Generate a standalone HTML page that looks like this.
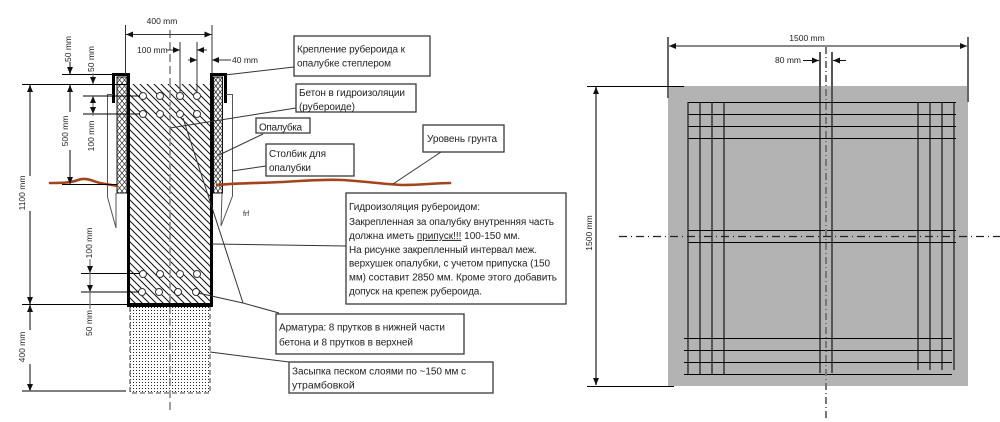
<!DOCTYPE html>
<html><head><meta charset="utf-8"><style>
html,body{margin:0;padding:0;background:#fff;}
svg{display:block;}
text{font-family:"Liberation Sans","Noto Sans CJK SC",sans-serif;fill:#222;}
</style></head><body>
<svg width="1000" height="422" viewBox="0 0 1000 422" xmlns="http://www.w3.org/2000/svg">
<defs>
<marker id="a" markerUnits="userSpaceOnUse" markerWidth="7" markerHeight="6" refX="7" refY="3" orient="auto-start-reverse"><path d="M0,0 L7,3 L0,6 z" fill="#111"/></marker>
<pattern id="hatch" patternUnits="userSpaceOnUse" width="7" height="7"><path d="M0,0 L7,7 M-1,6 L1,8 M6,-1 L8,1" stroke="#111" stroke-width="1"/></pattern>
<pattern id="xh" patternUnits="userSpaceOnUse" x="117" y="77" width="5" height="6"><path d="M0,0 L5,6 M5,0 L0,6" stroke="#222" stroke-width="0.7"/></pattern>
<pattern id="xh2" patternUnits="userSpaceOnUse" x="213.5" y="77" width="4.5" height="6"><path d="M0,0 L4.5,6 M4.5,0 L0,6" stroke="#222" stroke-width="0.7"/></pattern>
<pattern id="dots" patternUnits="userSpaceOnUse" width="3" height="3"><rect x="1" y="1" width="1" height="1" fill="#222"/></pattern>
</defs>

<!-- ===== LEFT DIAGRAM ===== -->
<rect x="130" y="307" width="80" height="86" fill="url(#dots)"/>
<path d="M130,307 L130,393 L210,393 L210,307" fill="none" stroke="#666" stroke-width="1.3" stroke-dasharray="5,3"/>
<rect x="130" y="84" width="80" height="221" fill="url(#hatch)"/>
<line x1="170" y1="30" x2="170" y2="414" stroke="#888" stroke-width="1.6" stroke-dasharray="8,4"/>
<g fill="#fff" stroke="#333" stroke-width="1">
<circle cx="143" cy="96" r="3.5"/><circle cx="160" cy="96" r="3.5"/><circle cx="180" cy="96" r="3.5"/><circle cx="197" cy="96" r="3.5"/>
<circle cx="143" cy="114" r="3.5"/><circle cx="160" cy="114" r="3.5"/><circle cx="180" cy="114" r="3.5"/><circle cx="197" cy="114" r="3.5"/>
<circle cx="143" cy="274" r="3.5"/><circle cx="160" cy="274" r="3.5"/><circle cx="180" cy="274" r="3.5"/><circle cx="197" cy="274" r="3.5"/>
<circle cx="142" cy="292" r="3.5"/><circle cx="159" cy="292" r="3.5"/><circle cx="178" cy="292" r="3.5"/><circle cx="196" cy="292" r="3.5"/>
</g>
<rect x="117" y="77" width="10" height="116" fill="url(#xh)" stroke="#111" stroke-width="1"/>
<rect x="213.5" y="77" width="9" height="116" fill="url(#xh2)" stroke="#111" stroke-width="1"/>
<line x1="128.5" y1="73" x2="128.5" y2="307" stroke="#000" stroke-width="3"/>
<line x1="211.5" y1="73" x2="211.5" y2="307" stroke="#000" stroke-width="3"/>
<line x1="127" y1="305" x2="213" y2="305" stroke="#000" stroke-width="4"/>
<path d="M113.5,103 L113.5,74.5 L129,74.5" fill="none" stroke="#000" stroke-width="3"/>
<path d="M210,74.5 L225.5,74.5 L225.5,103" fill="none" stroke="#000" stroke-width="3"/>
<g fill="none" stroke="#555" stroke-width="1">
<path d="M113,94.5 L107.5,94.5 L107.5,197 L116,228 L116,193"/>
<path d="M226,94.5 L232.5,94.5 L232.5,196 L221,226 L222,193"/>
</g>
<g fill="none" stroke="#a4441c" stroke-width="2.6" stroke-linecap="round">
<path d="M50,183 C62,183 70,183 78,180 C86,177 92,181 100,183 C106,184 112,185 117,186"/>
<path d="M217,185 C240,183 262,183 282,182 C302,181 322,179 342,180 C362,181 382,184 402,185 C422,185 436,183 450,183"/>
</g>

<g stroke="#333" stroke-width="1" fill="none">
<line x1="125.5" y1="25" x2="125.5" y2="74"/>
<line x1="212" y1="25" x2="212" y2="74"/>
<line x1="126" y1="34.5" x2="211.5" y2="34.5" marker-start="url(#a)" marker-end="url(#a)"/>
<line x1="180" y1="42" x2="180" y2="93"/>
<line x1="197" y1="42" x2="197" y2="93"/>
<line x1="167" y1="50" x2="180" y2="50" marker-end="url(#a)"/>
<line x1="207" y1="50" x2="197" y2="50" marker-end="url(#a)"/>
<line x1="188" y1="60" x2="197" y2="60" marker-end="url(#a)"/>
<line x1="231" y1="60" x2="212" y2="60" marker-end="url(#a)"/>
</g>
<text x="162" y="24" font-size="8.5" text-anchor="middle">400 mm</text>
<text x="137" y="53" font-size="8.5">100 mm</text>
<text x="232" y="63" font-size="8.5">40 mm</text>

<g stroke="#000" stroke-width="1">
<line x1="62" y1="74.5" x2="113" y2="74.5"/>
<line x1="22" y1="84.5" x2="128" y2="84.5"/>
<line x1="83" y1="96" x2="140" y2="96"/>
<line x1="83" y1="114" x2="140" y2="114"/>
<line x1="62" y1="184.5" x2="117" y2="184.5"/>
<line x1="81" y1="273.5" x2="140" y2="273.5"/>
<line x1="81" y1="292" x2="139" y2="292"/>
<line x1="22" y1="304.5" x2="128" y2="304.5"/>
<line x1="22" y1="391" x2="126" y2="391"/>
</g>
<g stroke="#777" fill="none">
<line x1="70" y1="62" x2="70" y2="74" stroke-width="1.8" marker-end="url(#a)"/>
<line x1="70" y1="85" x2="70" y2="112" stroke-width="1.8" marker-start="url(#a)"/>
<line x1="70" y1="150" x2="70" y2="184" stroke-width="1.8" marker-end="url(#a)"/>
<line x1="93" y1="73" x2="93" y2="84" stroke-width="1.2" marker-end="url(#a)"/>
<line x1="93" y1="96" x2="93" y2="114" stroke-width="1.2" marker-start="url(#a)" marker-end="url(#a)"/>
<line x1="93" y1="114" x2="93" y2="116" stroke-width="1.2"/>
<line x1="30" y1="85" x2="30" y2="176" stroke-width="1.8" marker-start="url(#a)"/>
<line x1="30" y1="211" x2="30" y2="304" stroke-width="1.8" marker-end="url(#a)"/>
<line x1="30" y1="305" x2="30" y2="330" stroke-width="1.8" marker-start="url(#a)"/>
<line x1="30" y1="364" x2="30" y2="391" stroke-width="1.8" marker-end="url(#a)"/>
<line x1="90" y1="259" x2="90" y2="273" stroke-width="1.2" marker-end="url(#a)"/>
<line x1="90" y1="273" x2="90" y2="292" stroke-width="1.2" marker-end="url(#a)"/>
<line x1="90" y1="292" x2="90" y2="309" stroke-width="1.2"/>
</g>
<g font-size="8.5" text-anchor="middle" dominant-baseline="central">
<text transform="translate(68,49) rotate(-90)">50 mm</text>
<text transform="translate(91,59) rotate(-90)">50 mm</text>
<text transform="translate(65,131) rotate(-90)">500 mm</text>
<text transform="translate(91,136) rotate(-90)">100 mm</text>
<text transform="translate(22,193) rotate(-90)">1100 mm</text>
<text transform="translate(22,347) rotate(-90)">400 mm</text>
<text transform="translate(89,243) rotate(-90)">100 mm</text>
<text transform="translate(89,323) rotate(-90)">50 mm</text>
</g>
<text x="243" y="216" font-size="7" fill="#555">frf</text>

<g stroke="#333" stroke-width="1" fill="none">
<line x1="294" y1="67" x2="225" y2="75"/>
<line x1="296" y1="108" x2="170" y2="128"/>
<line x1="263" y1="134" x2="219" y2="155"/>
<line x1="266" y1="166" x2="232" y2="171"/>
<line x1="441" y1="152" x2="393" y2="184"/>
<line x1="346" y1="246" x2="212" y2="244"/>
<path d="M198,293 L243,303 L279,313"/>
<line x1="183" y1="118" x2="243" y2="303"/>
<line x1="289" y1="362" x2="210" y2="352"/>
</g>

<g fill="#fff" stroke="#3a3a3a" stroke-width="1.3">
<rect x="294" y="36" width="136" height="40"/>
<rect x="296" y="84" width="120" height="28"/>
<rect x="256" y="118" width="54" height="15"/>
<rect x="266" y="144" width="88" height="32"/>
<rect x="423" y="125" width="81" height="27"/>
<rect x="346" y="193" width="220" height="111"/>
<rect x="276" y="314" width="188" height="40"/>
<rect x="289" y="362" width="204" height="31"/>
</g>
<g font-size="10">
<text x="297" y="52.5" textLength="108">Крепление рубероида к</text>
<text x="297" y="66.5" textLength="94">опалубке степлером</text>
<text x="299" y="96" textLength="106">Бетон в гидроизоляции</text>
<text x="299" y="110" textLength="56">(рубероиде)</text>
<text x="259" y="130.5" textLength="43">Опалубка</text>
<text x="269" y="157" textLength="57">Столбик для</text>
<text x="269" y="171" textLength="42">опалубки</text>
<text x="427" y="142" textLength="70">Уровень грунта</text>
<text x="349" y="210" textLength="131">Гидроизоляция рубероидом:</text>
<text x="349" y="225" textLength="205">Закрепленная за опалубку внутренняя часть</text>
<text x="349" y="238.9">должна иметь <tspan text-decoration="underline">припуск!!!</tspan> 100-150 мм.</text>
<text x="349" y="252.8" textLength="188">На рисунке закрепленный интервал меж.</text>
<text x="349" y="266.7" textLength="201">верхушек опалубки, с учетом припуска (150</text>
<text x="349" y="280.6" textLength="208">мм) составит 2850 мм. Кроме этого добавить</text>
<text x="349" y="294.5" textLength="133">допуск на крепеж рубероида.</text>
<text x="279" y="330.5" textLength="166">Арматура: 8 прутков в нижней части</text>
<text x="279" y="345.5" textLength="134">бетона и 8 прутков в верхней</text>
<text x="292" y="374.5" textLength="174">Засыпка песком слоями по ~150 мм с</text>
<text x="292" y="388.5" font-size="10.5">утрамбовкой</text>
</g>

<!-- ===== RIGHT DIAGRAM ===== -->
<rect x="668" y="86" width="300" height="300" fill="#b3b3b3"/>
<g stroke="#666" stroke-width="2">
<line x1="668" y1="37" x2="668" y2="98"/>
<line x1="968" y1="37" x2="968" y2="102"/>
</g>
<line x1="669" y1="46" x2="967" y2="46" stroke="#111" stroke-width="1" marker-start="url(#a)" marker-end="url(#a)"/>
<text x="807" y="41" font-size="8.5" text-anchor="middle">1500 mm</text>
<text x="788" y="63" font-size="8.5" text-anchor="middle">80 mm</text>
<line x1="803" y1="60.5" x2="819" y2="60.5" stroke="#111" marker-end="url(#a)"/>
<line x1="846" y1="60.5" x2="833" y2="60.5" stroke="#111" marker-end="url(#a)"/>
<line x1="587" y1="86.5" x2="684" y2="86.5" stroke="#000"/>
<line x1="587" y1="386.5" x2="674" y2="386.5" stroke="#000"/>
<line x1="596" y1="87" x2="596" y2="385" stroke="#777" stroke-width="2" marker-start="url(#a)" marker-end="url(#a)"/>
<text transform="translate(589,233) rotate(-90)" font-size="8.5" text-anchor="middle" dominant-baseline="central">1500 mm</text>
<g stroke="#555" stroke-width="2">
<line x1="688" y1="102" x2="688" y2="374"/>
<line x1="700" y1="102" x2="700" y2="374"/>
<line x1="712" y1="102" x2="712" y2="374"/>
<line x1="724" y1="102" x2="724" y2="374"/>
<line x1="918" y1="102" x2="918" y2="370"/>
<line x1="930" y1="102" x2="930" y2="370"/>
<line x1="942" y1="102" x2="942" y2="370"/>
<line x1="954" y1="102" x2="954" y2="370"/>
<line x1="820" y1="52" x2="820" y2="373"/>
<line x1="832" y1="52" x2="832" y2="373"/>
</g>
<g stroke="#000" stroke-width="1">
<line x1="688" y1="102.5" x2="956" y2="102.5"/>
<line x1="688" y1="114.5" x2="956" y2="114.5"/>
<line x1="688" y1="126.5" x2="956" y2="126.5"/>
<line x1="688" y1="138.5" x2="956" y2="138.5"/>
<line x1="688" y1="230.5" x2="956" y2="230.5"/>
<line x1="688" y1="242.5" x2="956" y2="242.5"/>
<line x1="684" y1="338.5" x2="952" y2="338.5"/>
<line x1="684" y1="350.5" x2="952" y2="350.5"/>
<line x1="684" y1="362.5" x2="952" y2="362.5"/>
<line x1="684" y1="374.5" x2="952" y2="374.5"/>
</g>
<line x1="826" y1="47" x2="826" y2="418" stroke="#777" stroke-width="2" stroke-dasharray="7,3,1,3"/>
<line x1="619" y1="236.5" x2="1000" y2="236.5" stroke="#222" stroke-width="1.2" stroke-dasharray="8,4,1,4"/>
</svg>
</body></html>
